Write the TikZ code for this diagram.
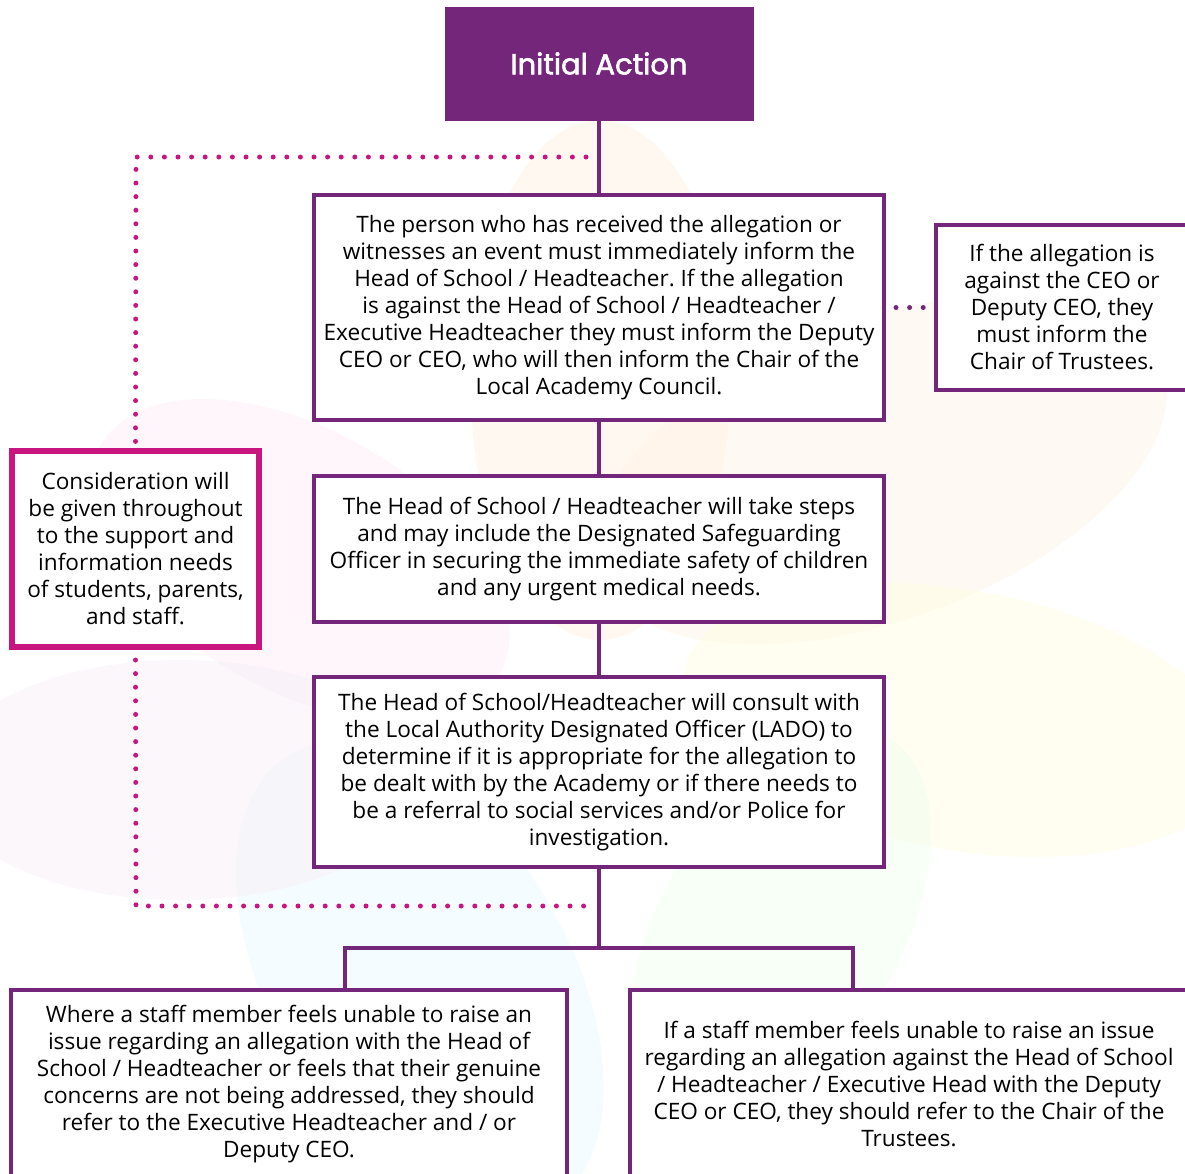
\documentclass[tikz,border=0pt]{standalone}
\usepackage{fontspec}
\setmainfont{Open Sans}
\newfontfamily\titlefont[FakeBold=2]{Poppins}
\definecolor{purp}{HTML}{74277A}
\definecolor{mag}{HTML}{C8157F}
\frenchspacing
\begin{document}
\begin{tikzpicture}[x=1pt,y=-1pt,
  box/.style={draw=purp,line width=4pt,fill=white,align=center,inner sep=0pt,
    font=\fontsize{22.6}{27}\selectfont},
  conn/.style={draw=purp,line width=4pt},
  dotline/.style={line width=5pt,line cap=round,dash pattern=on 0pt off 13.6pt},
  petal/.style={fill opacity=0.45,draw=none}]
\useasboundingbox (0,0) rectangle (1185,1173);
% faint background petals
\fill[petal,fill=orange!12] (600,380) ellipse [x radius=130,y radius=260];
\fill[petal,fill=magenta!8,rotate around={-30:(300,560)}] (300,560) ellipse [x radius=230,y radius=130];
\fill[petal,fill=orange!10,rotate around={20:(880,470)}] (880,470) ellipse [x radius=300,y radius=150];
\fill[petal,fill=yellow!12,rotate around={-10:(960,720)}] (960,720) ellipse [x radius=280,y radius=130];
\fill[petal,fill=green!7,rotate around={60:(780,930)}] (780,930) ellipse [x radius=220,y radius=120];
\fill[petal,fill=cyan!9,rotate around={-60:(420,980)}] (420,980) ellipse [x radius=260,y radius=150];
\fill[petal,fill=violet!7] (180,780) ellipse [x radius=240,y radius=120];
% nodes
\node[fill=purp,minimum width=309,minimum height=114,inner sep=0pt,text=white,
  font=\titlefont\fontsize{29}{34}\selectfont] (ia) at (599,63.5) {Initial Action};
\node[box,minimum width=570,minimum height=225] (b1) at (599,307.5)
 {\rule{0pt}{6pt}The person who has received the allegation or\\
  witnesses an event must immediately inform the\\
  Head of School / Headteacher. If the allegation\\
  is against the Head of School / Headteacher /\\
  Executive Headteacher they must inform the Deputy\\
  CEO or CEO, who will then inform the Chair of the\\
  Local Academy Council.};
\node[box,minimum width=252,minimum height=165] (rb) at (1062,307.5)
 {If the allegation is\\ against the CEO or\\ Deputy CEO, they\\ must inform the\\ Chair of Trustees.};
\node[box,minimum width=570,minimum height=146] (b2) at (599,549)
 {The Head of School / Headteacher will take steps\\
  and may include the Designated Safeguarding\\
  Officer in securing the immediate safety of children\\
  and any urgent medical needs.};
\node[box,minimum width=570,minimum height=190] (b3) at (599,772)
 {The Head of School/Headteacher will consult with\\
  the Local Authority Designated Officer (LADO) to\\
  determine if it is appropriate for the allegation to\\
  be dealt with by the Academy or if there needs to\\
  be a referral to social services and/or Police for\\
  investigation.};
\node[box,draw=mag,line width=6pt,minimum width=247,minimum height=196] (lb) at (135.5,549)
 {Consideration will\\ be given throughout\\ to the support and\\ information needs\\ of students, parents,\\ and staff.};
\node[box,minimum width=556,minimum height=188] (bl) at (289,1084)
 {Where a staff member feels unable to raise an\\
  issue regarding an allegation with the Head of\\
  School / Headteacher or feels that their genuine\\
  concerns are not being addressed, they should\\
  refer to the Executive Headteacher and / or\\
  Deputy CEO.};
\node[box,minimum width=558,minimum height=188] (br) at (909,1084)
 {If a staff member feels unable to raise an issue\\
  regarding an allegation against the Head of School\\
  / Headteacher / Executive Head with the Deputy\\
  CEO or CEO, they should refer to the Chair of the\\
  Trustees.};
% connectors
\draw[conn] (ia.south) -- (b1.north);
\draw[conn] (b1.south) -- (b2.north);
\draw[conn] (b2.south) -- (b3.north);
\coordinate (jm) at (599,948);
\coordinate (jl) at (345,948);
\coordinate (jr) at (853,948);
\draw[conn] (b3.south) -- (jm);
\draw[conn,line cap=rect] (jl) -- (jr);
\draw[conn] (jl) -- (jl |- bl.north);
\draw[conn] (jr) -- (jr |- br.north);
% dotted connectors
\coordinate (dt) at (586,157);
\coordinate (dtc) at (136,157);
\coordinate (db) at (586,906);
\coordinate (dbc) at (136,906);
\draw[dotline,draw=mag] (dt) -- (dtc) -- (lb.north);
\draw[dotline,draw=mag] (lb.south) ++(0,10) -- (dbc) -- (db);
\draw[dotline,draw=purp] ([xshift=10pt]b1.east) -- (rb.west);
\end{tikzpicture}
\end{document}
